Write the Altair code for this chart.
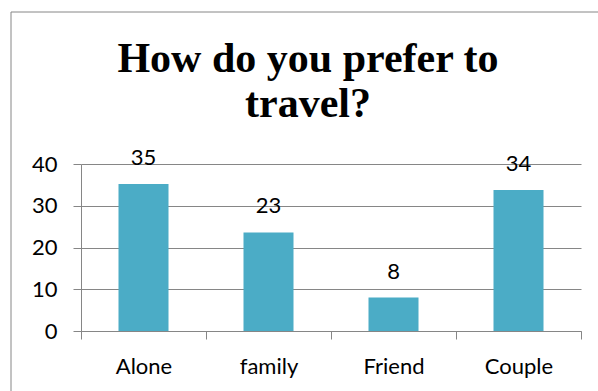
import altair as alt
import pandas as pd

categories = ["Alone", "family", "Friend", "Couple"]
values = [35.2, 23.6, 8.0, 33.8]
labels = ["35", "23", "8", "34"]
y_ticks = [0, 10, 20, 30, 40]
title_lines = ["How do you prefer to", "travel?"]

df = pd.DataFrame({"category": categories, "value": values, "label": labels})

FONT = "Lato"
GRAY = "#868686"
BAR = "#4BACC6"

x = alt.X(
    "category:N", sort=categories, title=None,
    scale=alt.Scale(paddingInner=0, paddingOuter=0),
    axis=alt.Axis(labelAngle=0, labelFont=FONT, labelFontSize=22, labelColor="black",
                  labelPadding=17, tickBand="extent", tickSize=8, tickColor=GRAY,
                  domainColor=GRAY, grid=False),
)
y = alt.Y(
    "value:Q", title=None, scale=alt.Scale(domain=[0, 40], nice=False),
    axis=alt.Axis(values=y_ticks, labelFont=FONT, labelFontSize=22, labelColor="black",
                  labelPadding=16, tickSize=8, tickColor=GRAY, domainColor=GRAY,
                  gridColor=GRAY, grid=True),
)

bars = alt.Chart(df).mark_bar(color=BAR, width=alt.RelativeBandSize(0.4)).encode(x=x, y=y)
text = alt.Chart(df).mark_text(
    font=FONT, fontSize=22, color="black", baseline="alphabetic", dy=-19
).encode(x=alt.X("category:N", sort=categories), y=alt.Y("value:Q"), text="label:N")

frame = alt.Chart(pd.DataFrame({"a": [0]})).mark_rect(
    fillOpacity=0, stroke=GRAY, strokeWidth=1
).encode(x=alt.value(-70), x2=alt.value(530), y=alt.value(-152), y2=alt.value(240))

chart = alt.layer(frame, bars, text).properties(
    width=500, height=167,
    title=alt.TitleParams(
        text=title_lines, font="Liberation Serif", fontSize=42, fontWeight="bold",
        color="black", anchor="middle", frame="group", dx=-23, offset=-147,
        lineHeight=45, baseline="alphabetic",
    ),
    autosize=alt.AutoSizeParams(type="none"),
    padding={"left": 81, "top": 164, "right": 17, "bottom": 60},
).configure_view(strokeWidth=0)

chart.save("out.html", embed_options={"renderer": "svg", "actions": False})
